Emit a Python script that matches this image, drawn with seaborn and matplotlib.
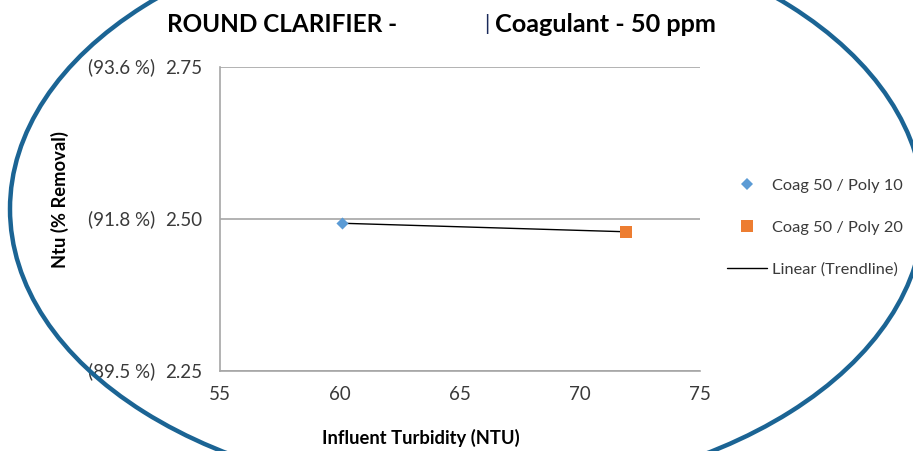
import numpy as np
import pandas as pd
import matplotlib
matplotlib.use("Agg")
import matplotlib.pyplot as plt
from matplotlib.patches import Ellipse
from matplotlib.lines import Line2D
import seaborn as sns

# ---- data ----
series = ["Coag 50 / Poly 10", "Coag 50 / Poly 20"]
influent = [60.1, 71.9]
ntu = [2.493, 2.479]
y_ticks = [2.25, 2.50, 2.75]
y_tick_labels = ["2.25", "2.50", "2.75"]
pct_labels = ["(89.5 %)", "(91.8 %)", "(93.6 %)"]
x_ticks = [55, 60, 65, 70, 75]
trend_label = "Linear (Trendline)"

colors = {"Coag 50 / Poly 10": "#5b9bd5", "Coag 50 / Poly 20": "#ed7d31"}
markers = {"Coag 50 / Poly 10": "D", "Coag 50 / Poly 20": "s"}
sizes = {"Coag 50 / Poly 10": 38, "Coag 50 / Poly 20": 80}

df = pd.DataFrame({"series": series, "x": influent, "y": ntu})

sns.set_theme(style="white")
plt.rcParams["font.family"] = ["Lato", "DejaVu Sans"]

W, H = 913, 451
fig = plt.figure(figsize=(W / 100, H / 100), dpi=100)
ax = fig.add_axes([220 / W, 1 - 371 / H, 480 / W, 304 / H])

txt = "#3a3a3a"
grid_c = "#a6a6a6"

# trendline
sns.regplot(data=df, x="x", y="y", scatter=False, ci=None, ax=ax,
            color="black", line_kws={"linewidth": 1.0, "zorder": 2})

for s in series:
    sub = df[df["series"] == s]
    sns.scatterplot(data=sub, x="x", y="y", ax=ax, marker=markers[s],
                    color=colors[s], s=sizes[s], linewidth=0, zorder=3,
                    legend=False)

ax.set_xlim(55, 75)
ax.set_ylim(2.25, 2.75)
ax.set_xticks(x_ticks)
ax.set_xticklabels([str(v) for v in x_ticks])
ax.set_yticks(y_ticks)
ax.set_yticklabels(y_tick_labels)
ax.set_xlabel("")
ax.set_ylabel("")

ax.yaxis.grid(True, color=grid_c, linewidth=1.2)
ax.xaxis.grid(False)
for sp in ["top", "right"]:
    ax.spines[sp].set_visible(False)
for sp in ["left", "bottom"]:
    ax.spines[sp].set_color(grid_c)
    ax.spines[sp].set_linewidth(1.2)
ax.tick_params(axis="both", which="major", direction="out", length=6,
               width=1.2, color=grid_c, labelcolor=txt, labelsize=13.5)
ax.tick_params(axis="y", pad=7)
ax.tick_params(axis="x", pad=5)

for yv, p in zip(y_ticks, pct_labels):
    ax.text(-0.135, yv, p, transform=ax.get_yaxis_transform(), ha="right",
            va="center", fontsize=13.5, color=txt)

# titles / labels
fig.text(167 / W, 1 - 25 / H, "ROUND CLARIFIER -", ha="left", va="center",
         fontsize=17.5, fontweight="bold", color="black")
fig.text(484 / W, 1 - 24 / H, "|", ha="left", va="center",
         fontsize=15, color="#1a2a5a")
fig.text(495 / W, 1 - 25 / H, "Coagulant - 50 ppm", ha="left", va="center",
         fontsize=18.2, fontweight="bold", color="black")
fig.text(421 / W, 1 - 438 / H, "Influent Turbidity (NTU)", ha="center",
         va="center", fontsize=13.2, fontweight="bold", color="black")
fig.text(60 / W, 1 - 200 / H, "Ntu (% Removal)", ha="center", va="center",
         rotation=90, fontsize=13.2, fontweight="bold", color="black")

# legend
handles = [
    Line2D([], [], linestyle="none", marker="D", markersize=6,
           markerfacecolor=colors[series[0]], markeredgewidth=0),
    Line2D([], [], linestyle="none", marker="s", markersize=8,
           markerfacecolor=colors[series[1]], markeredgewidth=0),
    Line2D([], [], color="black", linewidth=1.0),
]
fig.legend(handles, series + [trend_label], loc="center left",
           bbox_to_anchor=(727 / W, 1 - 227.5 / H), frameon=False,
           fontsize=11.8, labelcolor=txt, handlelength=2.45,
           handletextpad=0.3, labelspacing=1.66, borderaxespad=0,
           borderpad=0)

# decorative ellipse
ell = Ellipse((467 / W, 1 - 209 / H), 914 / W, 574 / H,
              transform=fig.transFigure, fill=False, edgecolor="#1b6494",
              linewidth=3.2, zorder=10, clip_on=False)
fig.patches.append(ell)

fig.savefig("out.png", dpi=100)
